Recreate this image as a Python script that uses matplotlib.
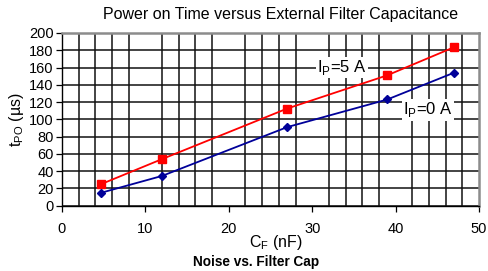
import matplotlib
matplotlib.use("Agg")
import matplotlib.pyplot as plt
import numpy as np

plt.rcParams['font.family'] = ['Liberation Sans', 'DejaVu Sans']

# capacitance (nF)
cap_nf = [4.7, 12, 27, 39, 47]
# power on time (us)
tpo_ip0 = [15, 34.5, 91, 123, 154]
tpo_ip5 = [25, 54, 112.5, 151, 183.5]

fig = plt.figure(figsize=(4.89, 2.71), dpi=100)
ax = fig.add_axes([62 / 489, 1 - 205.7 / 271, (479 - 62) / 489, (205.7 - 33) / 271])

ax.plot(cap_nf, tpo_ip5, color='#ff0000', lw=1.3, marker='s', ms=5.5, zorder=3)
ax.plot(cap_nf, tpo_ip0, color='#000099', lw=1.3, marker='D', ms=4.5, zorder=3)

ax.set_xlim(0, 50)
ax.set_ylim(0, 200)
ax.set_xticks(np.arange(0, 51, 10))
ax.set_xticks(np.arange(0, 51, 2), minor=True)
ax.set_yticks(np.arange(0, 201, 20))

ax.grid(True, which='minor', axis='x', color='#111111', lw=1.1)
ax.grid(True, which='major', axis='y', color='#111111', lw=1.1)
ax.set_axisbelow(True)

ax.tick_params(axis='x', which='minor', length=0)
ax.tick_params(axis='x', which='major', length=4, width=0.9, pad=8, labelsize=10.5)
ax.tick_params(axis='y', length=4, width=0.9, pad=2, labelsize=10.5)

for side in ['top', 'right']:
    ax.spines[side].set_color('#8c8c8c')
    ax.spines[side].set_linewidth(1.8)
for side in ['left', 'bottom']:
    ax.spines[side].set_color('black')
    ax.spines[side].set_linewidth(1.0)

box = dict(facecolor='white', edgecolor='none', pad=1)
ax.text(30.6, 160, r'I$_\mathregular{P}$=5 A', fontsize=12, va='center', ha='left', bbox=box, zorder=4)
ax.text(40.9, 111, r'I$_\mathregular{P}$=0 A', fontsize=12, va='center', ha='left', bbox=box, zorder=4)

fig.text(281 / 489, 1 - 15 / 271, 'Power on Time versus External Filter Capacitance',
         ha='center', va='center', fontsize=11.5)
fig.text(276 / 489, 1 - 242 / 271, r'C$_\mathregular{F}$ (nF)', ha='center', va='center', fontsize=11.5)
fig.text(256 / 489, 1 - 262 / 271, 'Noise vs. Filter Cap', ha='center', va='center',
         fontsize=9.8, fontweight='bold')
fig.text(16 / 489, 1 - 119.5 / 271, r't$_\mathregular{PO}$ (µs)', ha='center', va='center',
         fontsize=11.5, rotation=90)

fig.savefig('out.png', dpi=100)
